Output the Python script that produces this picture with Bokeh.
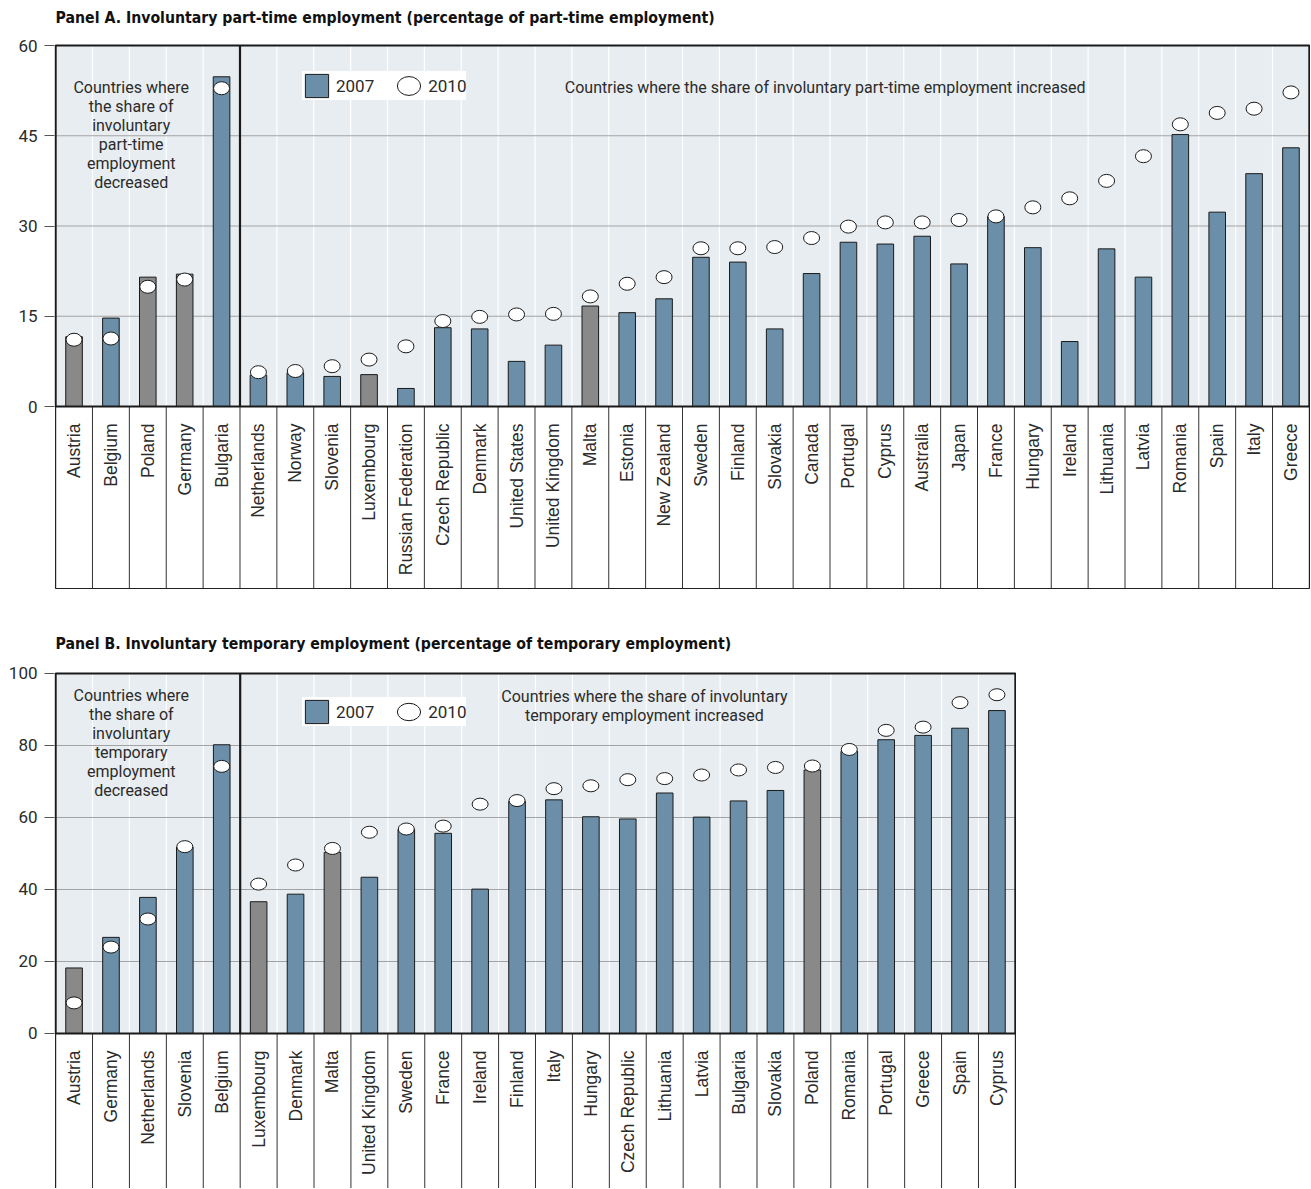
import math
from bokeh.plotting import figure
from bokeh.models import ColumnDataSource, Legend, LegendItem, FixedTicker, Range1d
from bokeh.layouts import column
from bokeh.core.properties import value
from bokeh.embed import file_html
from bokeh.resources import INLINE

# ---------------- Data ----------------
title_a = "Panel A. Involuntary part-time employment (percentage of part-time employment)"
cats_a = ["Austria", "Belgium", "Poland", "Germany", "Bulgaria", "Netherlands", "Norway",
          "Slovenia", "Luxembourg", "Russian Federation", "Czech Republic", "Denmark",
          "United States", "United Kingdom", "Malta", "Estonia", "New Zealand", "Sweden",
          "Finland", "Slovakia", "Canada", "Portugal", "Cyprus", "Australia", "Japan",
          "France", "Hungary", "Ireland", "Lithuania", "Latvia", "Romania", "Spain",
          "Italy", "Greece"]
a_2007 = [11.6, 14.7, 21.5, 22.0, 54.8, 5.2, 5.6, 5.0, 5.3, 3.0, 13.1, 12.9, 7.5, 10.2,
          16.7, 15.6, 17.9, 24.8, 24.0, 12.9, 22.1, 27.3, 27.0, 28.3, 23.7, 31.6, 26.4,
          10.8, 26.2, 21.5, 45.2, 32.3, 38.7, 43.0]
a_2010 = [11.1, 11.3, 19.9, 21.1, 52.9, 5.7, 5.9, 6.7, 7.8, 10.0, 14.2, 14.9, 15.3, 15.4,
          18.3, 20.4, 21.5, 26.3, 26.3, 26.5, 28.0, 29.9, 30.6, 30.6, 31.0, 31.6, 33.1,
          34.6, 37.5, 41.6, 46.9, 48.8, 49.5, 52.2]
grey_a = ["Austria", "Poland", "Germany", "Luxembourg", "Malta"]
ticks_a = [0, 15, 30, 45, 60]
decreased_a = "Countries where\nthe share of\ninvoluntary\npart-time\nemployment\ndecreased"
increased_a = "Countries where the share of involuntary part-time employment increased"

title_b = "Panel B. Involuntary temporary employment (percentage of temporary employment)"
cats_b = ["Austria", "Germany", "Netherlands", "Slovenia", "Belgium", "Luxembourg", "Denmark",
          "Malta", "United Kingdom", "Sweden", "France", "Ireland", "Finland", "Italy",
          "Hungary", "Czech Republic", "Lithuania", "Latvia", "Bulgaria", "Slovakia",
          "Poland", "Romania", "Portugal", "Greece", "Spain", "Cyprus"]
b_2007 = [18.2, 26.7, 37.8, 51.8, 80.2, 36.6, 38.7, 50.3, 43.4, 56.7, 55.6, 40.1, 64.5,
          64.9, 60.2, 59.6, 66.8, 60.1, 64.6, 67.5, 73.2, 78.4, 81.6, 82.8, 84.8, 89.7]
b_2010 = [8.5, 24.0, 31.8, 51.9, 74.2, 41.5, 46.8, 51.4, 55.9, 56.8, 57.6, 63.7, 64.7,
          68.0, 68.8, 70.5, 70.8, 71.8, 73.2, 73.9, 74.3, 78.9, 84.2, 85.1, 91.9, 94.1]
grey_b = ["Austria", "Luxembourg", "Malta", "Poland"]
ticks_b = [0, 20, 40, 60, 80, 100]
decreased_b = "Countries where\nthe share of\ninvoluntary\ntemporary\nemployment\ndecreased"
increased_b = "Countries where the share of involuntary\ntemporary employment increased"

n_decreased = 5

# ---------------- Style ----------------
BLUE = "#6b8fa8"
GREY = "#898989"
BG = "#e8edf1"
INK = "#1a1a1a"
TEXT = "#2b2b2b"
FONT = "Roboto"
LABEL_FONT = "Liberation Sans"
TITLE_FONT = "DejaVu Sans Condensed"


def make_panel(title, cats, v07, v10, grey, ticks, decreased, increased,
               width, height, border_bottom, y_start, y_end, box_bottom,
               dec_y, inc_x, inc_y, legend_loc, ell_h, title_y):
    n = len(cats)
    idx = list(range(n))
    ymax = ticks[-1]
    p = figure(width=width, height=height, output_backend="svg", toolbar_location=None,
               x_range=Range1d(-0.53, n - 0.47), y_range=Range1d(y_start, y_end),
               x_axis_location=None, min_border_left=54, min_border_right=0,
               min_border_top=0, min_border_bottom=border_bottom)
    p.outline_line_color = None
    p.background_fill_color = "white"
    p.border_fill_color = "white"
    p.xgrid.visible = False
    p.ygrid.visible = False

    # panel title (drawn inside the white top area of the frame)
    p.text(x=[-0.5], y=[title_y], text=[title], text_align="left", text_baseline="middle",
           text_font=value(TITLE_FONT), text_font_size="15.7px", text_font_style="bold",
           text_color="#111111")

    # plot area background
    p.quad(left=[-0.5], right=[n - 0.5], bottom=[0], top=[ymax], fill_color=BG, line_color=None)
    # vertical white grid lines between categories
    bounds = [i + 0.5 for i in idx[:-1]]
    p.segment(x0=bounds, y0=[0] * len(bounds), x1=bounds, y1=[ymax] * len(bounds),
              line_color="white", line_width=1.2)
    # horizontal grid lines
    hg = ticks[1:-1]
    p.segment(x0=[-0.5] * len(hg), y0=hg, x1=[n - 0.5] * len(hg), y1=hg,
              line_color="#a3a3a3", line_width=1.2)

    colors = [GREY if c in grey else BLUE for c in cats]
    src = ColumnDataSource(dict(x=idx, cat=cats, v07=v07, v10=v10, color=colors))
    bars = p.vbar(x="x", top="v07", bottom=0, width=0.45, source=src, fill_color="color",
                  line_color=INK, line_width=1)
    ells = p.ellipse(x="x", y="v10", width=16, height=ell_h, width_units="screen",
                     height_units="screen", source=src, fill_color="white",
                     line_color=INK, line_width=1)

    # label box separators and frame
    p.segment(x0=bounds, y0=[box_bottom] * len(bounds), x1=bounds, y1=[0] * len(bounds),
              line_color="#333333", line_width=1)
    p.quad(left=[-0.5], right=[n - 0.5], bottom=[box_bottom], top=[ymax], fill_color=None,
           line_color="#222222", line_width=1.2)
    p.quad(left=[-0.5], right=[n - 0.5], bottom=[0], top=[ymax], fill_color=None,
           line_color=INK, line_width=2)
    sep = n_decreased - 0.5
    p.segment(x0=[sep], y0=[0], x1=[sep], y1=[ymax], line_color=INK, line_width=2.2)

    # category labels
    p.text(x="x", y=0, text="cat", source=src, angle=math.pi / 2, text_align="right",
           text_baseline="middle", y_offset=17, text_font=value(LABEL_FONT),
           text_font_size="17.5px", text_color=TEXT)

    # group annotations
    p.text(x=[1.55], y=[dec_y], text=[decreased], text_align="center",
           text_baseline="middle", text_font=value(FONT), text_font_size="16px",
           text_color=TEXT, text_line_height=1.0)
    p.text(x=[inc_x], y=[inc_y], text=[increased], text_align="center",
           text_baseline="middle", text_font=value(FONT), text_font_size="16px",
           text_color=TEXT, text_line_height=1.0)

    # y axis
    ax = p.yaxis[0]
    ax.ticker = FixedTicker(ticks=ticks)
    ax.axis_line_color = None
    ax.major_tick_out = 10
    ax.major_tick_in = 0
    ax.minor_tick_line_color = None
    ax.major_tick_line_color = "#555555"
    ax.major_label_standoff = 7
    ax.major_label_text_font = FONT
    ax.major_label_text_font_size = "17px"
    ax.major_label_text_color = TEXT

    legend = Legend(items=[LegendItem(label="2007", renderers=[bars], index=1),
                           LegendItem(label="2010", renderers=[ells], index=1)],
                    orientation="horizontal", location=legend_loc, margin=0, padding=5,
                    spacing=20, glyph_width=29, glyph_height=29, label_standoff=5,
                    label_text_font=FONT, label_text_font_size="17px",
                    label_text_color=TEXT, background_fill_color="white",
                    background_fill_alpha=1.0, border_line_color=None)
    p.add_layout(legend, "center")
    return p


# Panel A: 6.017 px per unit, frame from page y 0 to 590
pa = make_panel(title_a, cats_a, a_2007, a_2010, grey_a, ticks_a, decreased_a, increased_a,
                width=1310, height=594, border_bottom=4,
                y_start=-30.58, y_end=67.48, box_bottom=-30.25,
                dec_y=45.2, inc_x=20.37, inc_y=53.0, legend_loc=(248, 490), ell_h=13,
                title_y=64.65)

# Panel B: 3.6 px per unit, frame from page y 594 to 1188
pb = make_panel(title_b, cats_b, b_2007, b_2010, grey_b, ticks_b, decreased_b, increased_b,
                width=1016, height=594, border_bottom=0,
                y_start=-43.06, y_end=121.94, box_bottom=-60,
                dec_y=80.7, inc_x=15.45, inc_y=91.0, legend_loc=(248, 462), ell_h=12,
                title_y=108.33)

layout = column(pa, pb, spacing=0)
open("out.html", "w").write(file_html(layout, INLINE))
